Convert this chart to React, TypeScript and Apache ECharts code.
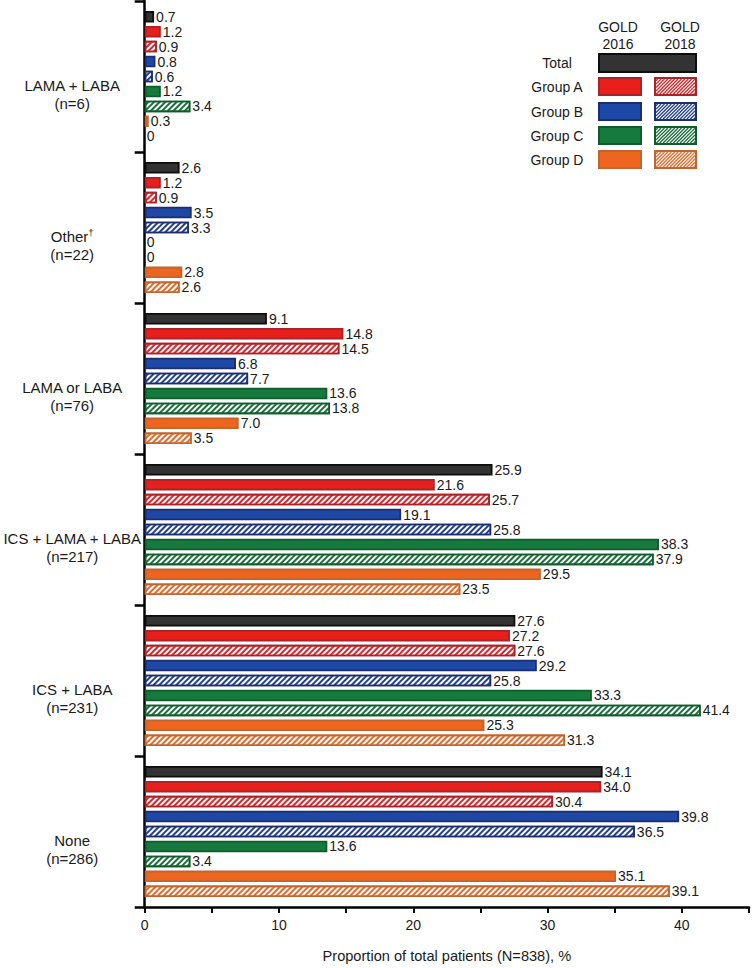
import React, { useEffect, useRef } from 'react';
import * as echarts from 'echarts';

// ---------- data ----------
const categories = ['LAMA + LABA', 'Other†', 'LAMA or LABA', 'ICS + LAMA + LABA', 'ICS + LABA', 'None'];
const categoryCounts = [6, 22, 76, 217, 231, 286];

const totalValues = [0.7, 2.6, 9.1, 25.9, 27.6, 34.1];
const groupA2016 = [1.2, 1.2, 14.8, 21.6, 27.2, 34.0];
const groupA2018 = [0.9, 0.9, 14.5, 25.7, 27.6, 30.4];
const groupB2016 = [0.8, 3.5, 6.8, 19.1, 29.2, 39.8];
const groupB2018 = [0.6, 3.3, 7.7, 25.8, 25.8, 36.5];
const groupC2016 = [1.2, 0, 13.6, 38.3, 33.3, 13.6];
const groupC2018 = [3.4, 0, 13.8, 37.9, 41.4, 3.4];
const groupD2016 = [0.3, 2.8, 7.0, 29.5, 25.3, 35.1];
const groupD2018 = [0, 2.6, 3.5, 23.5, 31.3, 39.1];

const xAxisMax = 45;
const xAxisInterval = 5;
const xAxisTitle = 'Proportion of total patients (N=838), %';
const legendRowLabels = ['Total', 'Group A', 'Group B', 'Group C', 'Group D'];
const legendColumnLabels = ['GOLD\n2016', 'GOLD\n2018'];

// ---------- styles ----------
const FONT = "'Liberation Sans', Arial, Helvetica, sans-serif";
const TEXT = '#1a1a1a';

const palette = {
  total: { fill: '#333333', border: '#0d0d0d' },
  A: { fill: '#e8201c', border: '#a8232a', stripe: '#d8262a' },
  B: { fill: '#1d48a6', border: '#1c2d6c', stripe: '#23408f' },
  C: { fill: '#167a3e', border: '#0f5b2c', stripe: '#1a6e3a' },
  D: { fill: '#ee6520', border: '#c0652e', stripe: '#e46a2a' },
};

type SeriesDef = { name: string; data: number[]; fill: string; border: string; hatched: boolean; stripe?: string };

const seriesDefs: SeriesDef[] = [
  { name: 'Total', data: totalValues, ...palette.total, hatched: false },
  { name: 'Group A GOLD 2016', data: groupA2016, ...palette.A, hatched: false },
  { name: 'Group A GOLD 2018', data: groupA2018, ...palette.A, hatched: true },
  { name: 'Group B GOLD 2016', data: groupB2016, ...palette.B, hatched: false },
  { name: 'Group B GOLD 2018', data: groupB2018, ...palette.B, hatched: true },
  { name: 'Group C GOLD 2016', data: groupC2016, ...palette.C, hatched: false },
  { name: 'Group C GOLD 2018', data: groupC2018, ...palette.C, hatched: true },
  { name: 'Group D GOLD 2016', data: groupD2016, ...palette.D, hatched: false },
  { name: 'Group D GOLD 2018', data: groupD2018, ...palette.D, hatched: true },
];

function hatchLines(x0: number, y0: number, w: number, h: number, color: string, step: number) {
  const x1 = x0 + w;
  const y1 = y0 + h;
  const out: any[] = [];
  for (let c = x0 + y0 + step / 2; c < x1 + y1; c += step) {
    const xa = Math.max(x0, c - y1);
    const xb = Math.min(x1, c - y0);
    if (xb <= xa) continue;
    out.push({
      type: 'line',
      silent: true,
      shape: { x1: xa, y1: c - xa, x2: xb, y2: c - xb },
      style: { stroke: color, lineWidth: 1.3 },
      z: 101,
    });
  }
  return out;
}

function buildLegend() {
  const els: any[] = [];
  const colX = [618, 680];
  legendColumnLabels.forEach((t, i) => {
    els.push({
      type: 'text',
      x: colX[i],
      y: 18,
      style: { text: t, font: `14px ${FONT}`, fill: TEXT, align: 'center', verticalAlign: 'top', lineHeight: 17 },
      z: 100,
    });
  });
  const rowY = [54, 78, 103, 127, 151];
  const keys: (keyof typeof palette)[] = ['total', 'A', 'B', 'C', 'D'];
  legendRowLabels.forEach((label, i) => {
    els.push({
      type: 'text',
      x: 557,
      y: rowY[i] + 9,
      style: { text: label, font: `14px ${FONT}`, fill: TEXT, align: 'center', verticalAlign: 'middle' },
      z: 100,
    });
    const p: any = palette[keys[i]];
    if (i === 0) {
      els.push({
        type: 'rect',
        shape: { x: 599, y: rowY[i], width: 97, height: 18 },
        style: { fill: p.fill, stroke: p.border, lineWidth: 2 },
        z: 100,
      });
    } else {
      els.push({
        type: 'rect',
        shape: { x: 599, y: rowY[i], width: 42, height: 17 },
        style: { fill: p.fill, stroke: p.border, lineWidth: 2 },
        z: 100,
      });
      els.push({
        type: 'rect',
        shape: { x: 655, y: rowY[i], width: 41, height: 17 },
        style: { fill: '#ffffff', stroke: p.border, lineWidth: 2 },
        z: 100,
      });
      els.push(...hatchLines(656, rowY[i] + 1, 39, 15, p.stripe, 3.4));
    }
  });
  return els;
}

function labelFormatter(value: string) {
  const idx = categories.indexOf(value);
  const n = categoryCounts[idx];
  let first: string;
  if (value.includes('†')) {
    first = `{a|${value.replace('†', '')}}{s|†}`;
  } else {
    first = `{a|${value}}`;
  }
  return `${first}\n{a|(n=${n})}`;
}

export default function App() {
  const ref = useRef<HTMLDivElement>(null);

  useEffect(() => {
    if (!ref.current) return;
    const chart = echarts.init(ref.current, undefined, { renderer: 'svg' });

    const series = seriesDefs.map((s) => ({
      name: s.name,
      type: 'bar',
      barWidth: 11.5,
      barGap: '30%',
      data: s.data.map((v) => (v === 0 ? { value: 0, itemStyle: { borderWidth: 0 } } : v)),
      itemStyle: s.hatched
        ? {
            color: '#ffffff',
            borderColor: s.border,
            borderWidth: 1.6,
            decal: {
              symbol: 'rect',
              symbolSize: 1,
              color: s.stripe,
              dashArrayX: [1, 0],
              dashArrayY: [1.3, 1.2],
              rotation: -Math.PI / 4,
            },
          }
        : { color: s.fill, borderColor: s.border, borderWidth: 1.8 },
      label: {
        show: true,
        position: 'right',
        distance: 2,
        fontFamily: FONT,
        fontSize: 14,
        color: TEXT,
        formatter: (p: any) => (p.value === 0 ? '0' : Number(p.value).toFixed(1)),
      },
    }));

    chart.setOption({
      animation: false,
      backgroundColor: '#ffffff',
      grid: { left: 143.5, right: 2, top: 1, bottom: 56, containLabel: false },
      xAxis: {
        type: 'value',
        min: 0,
        max: xAxisMax,
        interval: xAxisInterval,
        name: xAxisTitle,
        nameLocation: 'middle',
        nameGap: 41,
        nameTextStyle: { fontFamily: FONT, fontSize: 14.6, color: TEXT },
        axisLine: { show: true, lineStyle: { color: '#000', width: 2.5 } },
        axisTick: { show: true, length: 6, lineStyle: { color: '#000', width: 2 } },
        axisLabel: {
          fontFamily: FONT,
          fontSize: 14,
          color: TEXT,
          margin: 11,
          formatter: (v: number) => (v % 10 === 0 ? String(v) : ''),
        },
        splitLine: { show: false },
      },
      yAxis: {
        type: 'category',
        inverse: true,
        data: categories,
        axisLine: { show: true, lineStyle: { color: '#000', width: 2.5 } },
        axisTick: { show: true, length: 10, lineStyle: { color: '#000', width: 2.5 } },
        axisLabel: {
          margin: 72.5,
          align: 'center',
          verticalAlign: 'top',
          formatter: labelFormatter,
          rich: {
            a: { fontFamily: FONT, fontSize: 15, color: TEXT, lineHeight: 18, align: 'center' },
            s: { fontFamily: FONT, fontSize: 9.5, color: TEXT, lineHeight: 18, verticalAlign: 'top', padding: [0, 0, 6, 0] },
          },
        },
      },
      series,
      graphic: buildLegend(),
    });

    return () => chart.dispose();
  }, []);

  return (
    <div
      ref={ref}
      style={{ position: 'fixed', left: 0, top: 0, width: 752, height: 968, background: '#fff' }}
    />
  );
}
